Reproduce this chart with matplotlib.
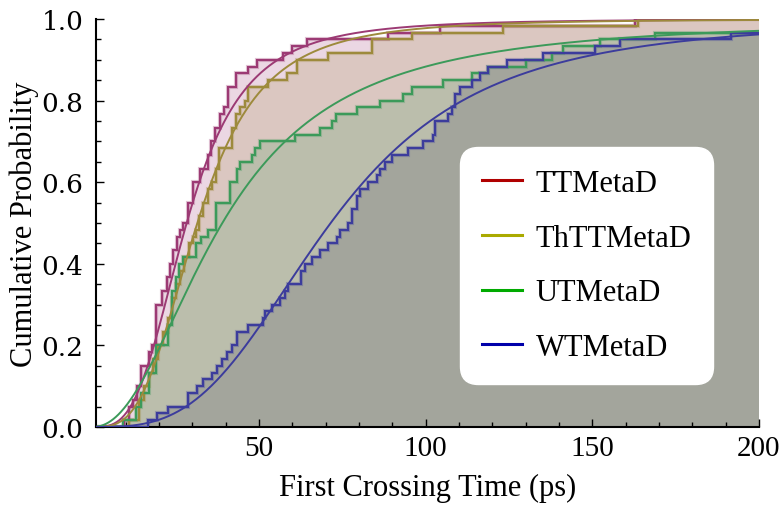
import numpy as np
import matplotlib
matplotlib.use("Agg")
import matplotlib.pyplot as plt
from matplotlib.lines import Line2D
from matplotlib.ticker import MultipleLocator, FormatStrFormatter

plt.rcParams["font.family"] = ["Liberation Serif", "DejaVu Serif"]

series = ["TTMetaD", "ThTTMetaD", "UTMetaD", "WTMetaD"]
n_runs = [60, 60, 60, 60]

# first crossing times (ps) and how many runs crossed at each time
tt_times = [9.5, 11.0, 12.2, 13.3, 14.6, 17.1, 18.0, 19.0, 20.8, 22.3, 23.3, 24.3,
            25.3, 26.3, 27.3, 28.8, 30.3, 32.3, 34.6, 35.6, 36.9, 38.3, 39.5, 40.8,
            43.1, 46.8, 49.3, 57.3, 59.8, 64.5, 88.8, 104.3, 162.8]
tt_counts = [1, 2, 1, 2, 3, 2, 1, 6, 2, 2, 2, 2,
             2, 1, 1, 3, 3, 2, 2, 2, 2, 2, 1, 3,
             2, 1, 1, 1, 1, 1, 1, 1, 1]

thtt_times = [11.0, 14.1, 15.6, 17.1, 18.3, 19.6, 21.1, 22.6, 23.9, 25.1, 26.3, 27.6,
              29.0, 30.1, 31.1, 32.1, 33.3, 34.6, 36.0, 37.1, 38.1, 41.8, 43.1, 44.3,
              45.8, 46.8, 52.8, 58.3, 61.3, 70.8, 83.8, 95.8, 123.3, 163.8]
thtt_counts = [1, 3, 2, 2, 2, 2, 2, 2, 3, 2, 2, 2,
               2, 1, 1, 2, 2, 2, 1, 2, 3, 3, 2, 1,
               1, 2, 1, 1, 2, 1, 2, 1, 1, 1]

ut_times = [9.1, 13.1, 14.6, 17.1, 19.1, 22.6, 23.9, 25.1, 26.1, 27.1, 31.1, 32.6,
            34.6, 37.1, 41.3, 43.3, 44.3, 47.8, 48.8, 50.3, 60.8, 68.3, 71.8, 73.1,
            79.3, 86.3, 93.3, 95.8, 105.3, 113.8, 118.8, 130.0, 137.8, 141.3, 152.3,
            168.8]
ut_counts = [1, 2, 2, 3, 4, 3, 5, 2, 2, 1, 2, 1,
             1, 4, 3, 2, 1, 1, 1, 1, 1, 1, 1, 1,
             1, 1, 1, 1, 1, 1, 1, 1, 1, 1, 1,
             1]

wt_times = [16.8, 19.3, 22.8, 28.8, 31.3, 33.3, 35.8, 37.3, 38.8, 40.3, 41.8, 43.3,
            46.8, 51.3, 51.8, 53.8, 56.3, 57.8, 58.8, 62.5, 63.8, 65.8, 68.3, 70.8,
            73.3, 74.3, 76.8, 77.8, 79.3, 80.3, 82.8, 85.3, 86.3, 87.8, 89.8, 94.8,
            99.3, 102.1, 102.8, 106.8, 107.8, 108.8, 110.3, 113.8, 116.3, 118.8,
            124.5, 135.3, 150.8, 158.3, 191.6]
wt_counts = [1, 1, 1, 2, 1, 1, 1, 1, 1, 1, 1, 2,
             1, 1, 1, 1, 1, 1, 1, 2, 1, 1, 1, 1,
             1, 1, 1, 2, 2, 1, 1, 1, 1, 1, 1, 1,
             1, 1, 2, 1, 1, 2, 1, 1, 1, 1,
             1, 1, 1, 1, 1]

step_times = [tt_times, thtt_times, ut_times, wt_times]
step_counts = [tt_counts, thtt_counts, ut_counts, wt_counts]

# log-logistic fits to each set of crossing times: scale (ps) and shape
fit_scale = [28.3, 31.5, 39.0, 71.5]
fit_shape = [3.25, 3.27, 2.15, 3.15]

line_colors = ["#9c3a74", "#9d8a3c", "#3c9a5a", "#3c3c9c"]
fill_colors = ["#9c3a74", "#9d8a3c", "#3c9a5a", "#45425d"]
legend_colors = ["#b00000", "#aaaa00", "#00aa00", "#0000aa"]

t_min, t_max = 1.1, 200.0

fig = plt.figure(figsize=(7.82, 5.06), dpi=100)
ax = fig.add_axes([96 / 782, 78 / 506, 663 / 782, 408 / 506])


def ecdf_steps(times, counts, n):
    x = np.concatenate([[t_min], times, [t_max]])
    cum = np.cumsum(counts) / n
    y = np.concatenate([[0.0], cum, [cum[-1]]])
    return x, y


# shaded area under every empirical CDF
for times, counts, n, fc in zip(step_times, step_counts, n_runs, fill_colors):
    x, y = ecdf_steps(times, counts, n)
    ax.fill_between(x, y, 0, step="post", color=fc, alpha=0.2, lw=0, zorder=1)

# empirical CDF staircases and fitted curves
t_grid = np.linspace(t_min, t_max, 800)
for times, counts, n, a, b, c in zip(step_times, step_counts, n_runs,
                                     fit_scale, fit_shape, line_colors):
    x, y = ecdf_steps(times, counts, n)
    ax.plot(x, y, drawstyle="steps-post", color=c, lw=3.0, alpha=0.3, zorder=2,
            solid_joinstyle="miter")
    ax.plot(x, y, drawstyle="steps-post", color=c, lw=1.5, zorder=3,
            solid_joinstyle="miter")
    cdf = 1.0 / (1.0 + (t_grid / a) ** (-b))
    ax.plot(t_grid, cdf, color=c, lw=1.4, zorder=4)

ax.set_xlim(t_min, t_max)
ax.set_ylim(0, 1)
ax.xaxis.set_major_locator(MultipleLocator(50))
ax.xaxis.set_minor_locator(MultipleLocator(10))
ax.yaxis.set_major_locator(MultipleLocator(0.2))
ax.yaxis.set_minor_locator(MultipleLocator(0.05))
ax.yaxis.set_major_formatter(FormatStrFormatter("%.1f"))
ax.tick_params(which="both", direction="in", width=1.0, colors="black",
               top=False, right=False)
ax.tick_params(which="major", length=6)
ax.tick_params(which="minor", length=3.5)
ax.tick_params(axis="y", pad=9, labelsize=19)
ax.tick_params(axis="x", pad=6, labelsize=21)
for lab in ax.get_yticklabels():
    lab.set_family(["DejaVu Serif"])
for side in ("top", "right"):
    ax.spines[side].set_visible(False)
for side in ("left", "bottom"):
    ax.spines[side].set_linewidth(1.5)

ax.set_xlabel("First Crossing Time (ps)", fontsize=22, labelpad=8)
ax.set_ylabel("Cumulative Probability", fontsize=22)
ax.yaxis.set_label_coords(-0.086, 0.5)

handles = [Line2D([0], [0], color=c, lw=2.2) for c in legend_colors]
leg = ax.legend(handles, series, loc="upper left", bbox_to_anchor=(0.549, 0.686),
                fontsize=22, frameon=True, fancybox=True, framealpha=1.0,
                facecolor="white", edgecolor="white", handlelength=1.3,
                handletextpad=0.45, labelspacing=0.84, borderpad=0.72,
                borderaxespad=0.0)
leg.get_frame().set_boxstyle("round", pad=0.0, rounding_size=0.6)
leg.set_zorder(10)

fig.savefig("out.png", dpi=100)
